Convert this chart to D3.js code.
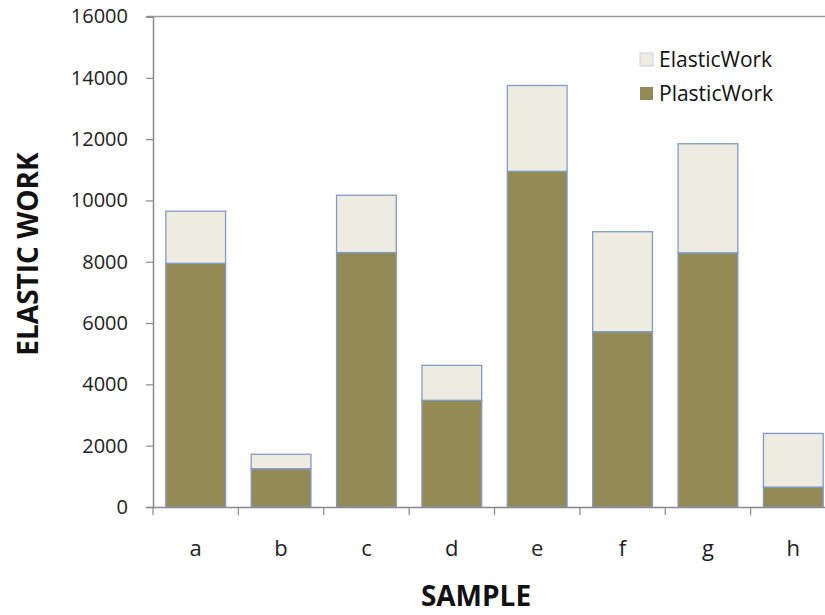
<!DOCTYPE html>
<html>
<head>
<meta charset="utf-8">
<script src="https://cdn.jsdelivr.net/npm/d3@7"></script>
<style>
  html, body { margin: 0; padding: 0; background: #fff; }
  svg { display: block; font-family: "Open Sans", sans-serif; }
</style>
</head>
<body>
<svg id="chart" width="825" height="615"></svg>
<script>
const categories = ["a", "b", "c", "d", "e", "f", "g", "h"];
const plasticWork = [7950, 1250, 8300, 3480, 10950, 5720, 8290, 650];
const elasticWork = [1700, 470, 1870, 1140, 2800, 3260, 3560, 1750];
const seriesNames = ["PlasticWork", "ElasticWork"];
const seriesColors = ["#948A54", "#EEECE1"];
const yTicks = [0, 2000, 4000, 6000, 8000, 10000, 12000, 14000, 16000];

const svg = d3.select("#chart");
const plotLeft = 153, plotRight = 836, plotTop = 16.5, plotBottom = 507;

const table = categories.map((c, i) => ({ cat: c, PlasticWork: plasticWork[i], ElasticWork: elasticWork[i] }));
const stacked = d3.stack().keys(seriesNames)(table);

const x = d3.scaleBand().domain(categories).range([plotLeft, plotRight]).paddingInner(0.3).paddingOuter(0.15);
const y = d3.scaleLinear().domain([0, 16000]).range([plotBottom, plotTop]);
const color = d3.scaleOrdinal().domain(seriesNames).range(seriesColors);

// top border line of plot area
svg.append("line").attr("x1", plotLeft - 7).attr("x2", 825).attr("y1", y(16000)).attr("y2", y(16000))
  .attr("stroke", "#9a9a9a").attr("stroke-width", 1.5);

// bars
svg.append("g").selectAll("g").data(stacked).join("g")
  .attr("fill", d => color(d.key))
  .selectAll("rect").data(d => d).join("rect")
  .attr("x", d => x(d.data.cat))
  .attr("width", x.bandwidth())
  .attr("y", d => y(d[1]))
  .attr("height", d => y(d[0]) - y(d[1]))
  .attr("stroke", "#7F9BCB")
  .attr("stroke-width", 1.3);

// y axis
const yAxis = svg.append("g").attr("transform", `translate(${plotLeft},0)`)
  .call(d3.axisLeft(y).tickValues(yTicks).tickSize(7).tickPadding(18).tickFormat(d3.format("d")));
yAxis.select(".domain").attr("stroke", "#8a8a8a").attr("stroke-width", 1.5);
yAxis.selectAll(".tick line").attr("stroke", "#8a8a8a").attr("stroke-width", 1.2);
yAxis.selectAll(".tick text").attr("font-size", 20).attr("fill", "#222").attr("font-family", "Open Sans, sans-serif");

// x axis
const xAxis = svg.append("g").attr("transform", `translate(0,${plotBottom})`)
  .call(d3.axisBottom(x).tickSize(0).tickPadding(33));
xAxis.select(".domain").attr("stroke", "#8a8a8a").attr("stroke-width", 1.5);
xAxis.selectAll(".tick text").attr("font-size", 22).attr("fill", "#222").attr("font-family", "Open Sans, sans-serif");
// category boundary ticks
const bounds = categories.map(c => x(c) - x.step() * x.paddingInner() / 2);
xAxis.selectAll(".bound").data(bounds).join("line").attr("class", "bound")
  .attr("x1", d => d).attr("x2", d => d).attr("y1", 0).attr("y2", 8)
  .attr("stroke", "#8a8a8a").attr("stroke-width", 1.2);

// axis titles
svg.append("text").attr("transform", `translate(38,254) rotate(-90)`)
  .attr("text-anchor", "middle").attr("font-size", 28).attr("font-weight", "bold").attr("fill", "#111")
  .text("ELASTIC WORK");
svg.append("text").attr("x", 476).attr("y", 606)
  .attr("text-anchor", "middle").attr("font-size", 28).attr("font-weight", "bold").attr("fill", "#111")
  .text("SAMPLE");

// legend
const legendItems = ["ElasticWork", "PlasticWork"];
const lg = svg.append("g").selectAll("g").data(legendItems).join("g")
  .attr("transform", (d, i) => `translate(640,${53 + i * 34})`);
lg.append("rect").attr("width", 13).attr("height", 13)
  .attr("fill", d => color(d)).attr("stroke", d => d === "ElasticWork" ? "#C5D0E6" : "none").attr("stroke-width", 1);
lg.append("text").attr("x", 19).attr("y", 14).attr("font-size", 21).attr("fill", "#111").text(d => d);
</script>
</body>
</html>
